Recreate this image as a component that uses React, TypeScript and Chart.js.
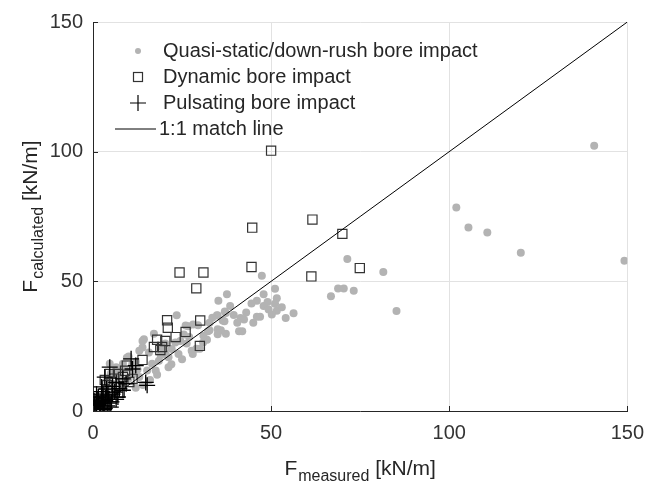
import React, { useEffect, useRef } from 'react';
import { Chart, registerables } from 'chart.js';

Chart.register(...registerables);

// Quasi-static/down-rush bore impact (grey dots)
const quasiX = [140.7, 102.0, 105.4, 110.7, 120.1, 149.2, 81.5, 85.2, 71.4, 68.8, 70.4, 73.2, 66.8, 47.4, 51.1, 37.6, 35.2, 47.9, 51.6, 46.0, 51.1, 47.9, 49.3, 51.6, 50.2, 56.3, 54.1, 46.0, 46.9, 37.3, 35.0, 36.4, 41.4, 42.4, 40.5, 41.0, 41.9, 37.3, 35.0, 32.7, 35.9, 23.5, 34.8, 37.0, 32.7, 28.1, 32.3, 17.1, 24.5, 26.3, 27.7, 30.9, 14.3, 13.9, 22.1, 24.0, 21.2, 15.7, 23.1, 20.3, 29.5, 26.7, 20.3, 18.5, 16.6, 13.0, 13.9, 29.0, 32.0, 35.0, 36.9, 17.6, 21.2, 11.1, 8.4, 6.5, 4.7, 13.0, 15.2, 10.0, 12.0, 9.0, 7.5, 5.5, 3.5, 2.5, 4.0, 6.0, 8.0, 10.0, 12.5, 2.0, 1.5, 3.0, 19.0, 25.5, 27.0, 31.0, 33.5, 38.5, 43.0, 44.5, 39.5, 45.0, 53.0, 49.0, 18.0, 22.0, 25.0, 28.0, 30.0, 16.0, 14.0, 12.0, 11.0, 9.5, 7.0, 5.0, 19.5, 26.0];
const quasiY = [102.3, 78.5, 70.8, 68.8, 61.0, 57.9, 53.6, 38.6, 58.6, 47.2, 47.2, 46.4, 44.2, 52.2, 47.1, 45.0, 42.5, 45.0, 43.5, 42.5, 41.4, 40.5, 39.1, 38.7, 37.2, 37.7, 35.9, 36.3, 36.3, 37.8, 36.8, 34.9, 35.9, 35.3, 34.0, 30.8, 30.8, 29.8, 31.5, 31.1, 31.1, 36.9, 36.9, 38.4, 34.0, 33.4, 30.8, 29.8, 27.0, 26.0, 23.2, 26.4, 27.7, 24.5, 23.9, 22.0, 20.7, 22.6, 26.4, 26.0, 33.1, 32.7, 22.0, 19.4, 18.2, 23.2, 27.0, 24.0, 27.5, 29.6, 34.6, 15.6, 16.9, 14.3, 18.2, 16.9, 18.2, 13.1, 15.6, 21.0, 19.0, 16.0, 13.0, 10.5, 8.0, 6.0, 12.0, 7.0, 10.0, 12.5, 16.0, 3.0, 2.0, 4.5, 21.5, 29.5, 28.5, 29.0, 36.0, 40.5, 38.0, 41.5, 37.0, 34.0, 40.0, 42.0, 14.0, 18.0, 20.0, 22.0, 24.0, 12.0, 10.0, 9.0, 18.0, 20.5, 15.0, 14.5, 24.5, 33.0];

// Dynamic bore impact (open squares)
const dynamicX = [50.0, 44.7, 61.6, 70.0, 44.5, 74.9, 61.3, 31.0, 24.3, 29.0, 20.8, 21.0, 30.1, 26.0, 23.2, 30.0, 18.0, 20.3, 17.1, 19.4, 18.9, 13.9, 9.5, 4.7, 7.0, 8.4, 11.1, 10.2, 5.2, 6.5, 4.2, 2.4, 3.8, 5.6, 2.8, 3.3, 6.0, 9.0, 1.5, 4.0, 7.5];
const dynamicY = [100.4, 70.7, 73.8, 68.3, 55.5, 55.1, 51.9, 53.4, 53.4, 47.3, 35.0, 32.1, 34.9, 30.5, 28.5, 25.1, 27.5, 27.0, 24.7, 24.7, 23.5, 19.7, 17.5, 14.3, 14.3, 13.1, 12.4, 11.2, 11.2, 9.3, 8.0, 4.2, 2.3, 5.4, 6.7, 12.0, 12.5, 15.5, 1.5, 10.0, 7.0];

// Pulsating bore impact (crosses)
const pulsatingX = [10.7, 15.2, 14.8, 12.0, 11.1, 4.7, 3.3, 8.4, 2.4, 0.6, 1.9, 2.8, 4.2, 6.1, 7.4, 7.0, 1.5, 1.0, 3.3, 5.2, 8.4, 9.3, 2.0, 3.0, 4.0, 1.2, 2.5, 5.5, 6.5, 0.8, 2.2, 4.5, 0.5, 1.5, 2.5, 3.5, 4.5, 5.5, 6.5, 1.0, 3.8, 0.3, 2.8, 5.0];
const pulsatingY = [20.1, 9.9, 11.0, 17.5, 16.2, 16.9, 13.1, 12.4, 9.3, 3.5, 2.9, 5.4, 6.1, 7.3, 8.6, 5.4, 5.4, 1.6, 1.0, 3.5, 8.0, 10.5, 1.0, 3.0, 2.0, 4.2, 7.5, 9.5, 11.0, 0.8, 2.0, 4.5, 2.5, 3.5, 4.0, 5.0, 3.0, 6.5, 4.5, 6.5, 8.5, 4.0, 0.5, 1.5];

// 1:1 match line
const matchX = [0, 150];
const matchY = [0, 150];

const tickValues = [0, 50, 100, 150];
const legendLabels = ['Quasi-static/down-rush bore impact', 'Dynamic bore impact', 'Pulsating bore impact', '1:1 match line'];
const xTitle = { main: 'F', sub: 'measured', unit: ' [kN/m]' };
const yTitle = { main: 'F', sub: 'calculated', unit: ' [kN/m]' };

const FONT = '"Liberation Sans", Arial, Helvetica, sans-serif';
const TEXT = '#262626';
const GREY = '#b3b3b3';

const pts = (xs: number[], ys: number[]) => xs.map((x, i) => ({ x, y: ys[i] }));

function drawSubTitle(ctx: CanvasRenderingContext2D, t: { main: string; sub: string; unit: string }, cx: number, baseY: number) {
  const mainFont = `21px ${FONT}`;
  const subFont = `16px ${FONT}`;
  ctx.font = mainFont;
  const wMain = ctx.measureText(t.main).width;
  const wUnit = ctx.measureText(t.unit).width;
  ctx.font = subFont;
  const wSub = ctx.measureText(t.sub).width;
  const gap = 1;
  const total = wMain + gap + wSub + wUnit;
  let x = cx - total / 2;
  ctx.textBaseline = 'alphabetic';
  ctx.textAlign = 'left';
  ctx.fillStyle = TEXT;
  ctx.font = mainFont;
  ctx.fillText(t.main, x, baseY);
  x += wMain + gap;
  ctx.font = subFont;
  ctx.fillText(t.sub, x, baseY + 6);
  x += wSub;
  ctx.font = mainFont;
  ctx.fillText(t.unit, x, baseY);
}

const decorPlugin = {
  id: 'decor',
  afterDraw(chart: any) {
    const { ctx, chartArea: ca, scales } = chart;
    const xs = scales.x;
    const ys = scales.y;
    ctx.save();
    // inward ticks
    ctx.strokeStyle = TEXT;
    ctx.lineWidth = 1;
    tickValues.forEach((v) => {
      const px = Math.round(xs.getPixelForValue(v)) + 0.5;
      ctx.beginPath();
      ctx.moveTo(px, ca.bottom);
      ctx.lineTo(px, ca.bottom - 5);
      ctx.stroke();
      const py = Math.round(ys.getPixelForValue(v)) + 0.5;
      ctx.beginPath();
      ctx.moveTo(ca.left, py);
      ctx.lineTo(ca.left + 5, py);
      ctx.stroke();
    });

    // axis titles
    drawSubTitle(ctx, xTitle, (ca.left + ca.right) / 2, 475);
    ctx.save();
    ctx.translate(37, (ca.top + ca.bottom) / 2);
    ctx.rotate(-Math.PI / 2);
    drawSubTitle(ctx, yTitle, 0, 0);
    ctx.restore();

    // legend
    const mx = ca.left + 45;
    const tx = ca.left + 70;
    const rowY = (i: number) => ca.top + 29 + i * 26;
    ctx.font = `20px ${FONT}`;
    ctx.textBaseline = 'middle';
    ctx.textAlign = 'left';
    legendLabels.forEach((lab, i) => {
      ctx.fillStyle = TEXT;
      ctx.fillText(lab, i === 3 ? tx - 4 : tx, rowY(i));
    });
    // markers
    ctx.fillStyle = GREY;
    ctx.beginPath();
    ctx.arc(mx, rowY(0), 3, 0, Math.PI * 2);
    ctx.fill();
    ctx.strokeStyle = '#333';
    ctx.lineWidth = 1.2;
    ctx.strokeRect(mx - 4.5, rowY(1) - 4.5, 9, 9);
    ctx.strokeStyle = '#000';
    ctx.beginPath();
    ctx.moveTo(mx - 8, rowY(2));
    ctx.lineTo(mx + 8, rowY(2));
    ctx.moveTo(mx, rowY(2) - 8);
    ctx.lineTo(mx, rowY(2) + 8);
    ctx.stroke();
    ctx.lineWidth = 1;
    ctx.beginPath();
    ctx.moveTo(ca.left + 22, rowY(3));
    ctx.lineTo(ca.left + 63, rowY(3));
    ctx.stroke();
    ctx.restore();
  },
};

export default function App() {
  const ref = useRef<HTMLCanvasElement>(null);
  useEffect(() => {
    document.body.style.margin = '0';
    if (!ref.current) return;
    const chart = new Chart(ref.current, {
      type: 'scatter',
      data: {
        datasets: [
          {
            label: legendLabels[3],
            data: pts(matchX, matchY),
            showLine: true,
            borderColor: '#000',
            borderWidth: 1,
            pointRadius: 0,
            order: 0,
          } as any,
          {
            label: legendLabels[2],
            data: pts(pulsatingX, pulsatingY),
            pointStyle: 'cross',
            pointRadius: 8,
            borderColor: '#000',
            backgroundColor: '#000',
            borderWidth: 1.3,
            order: 1,
          },
          {
            label: legendLabels[1],
            data: pts(dynamicX, dynamicY),
            pointStyle: 'rect',
            pointRadius: 6.5,
            borderColor: '#333',
            backgroundColor: 'rgba(0,0,0,0)',
            borderWidth: 1.2,
            order: 2,
          },
          {
            label: legendLabels[0],
            data: pts(quasiX, quasiY),
            pointStyle: 'circle',
            pointRadius: 4,
            backgroundColor: GREY,
            borderColor: GREY,
            borderWidth: 0,
            order: 3,
          },
        ],
      },
      options: {
        responsive: false,
        animation: false,
        layout: { padding: { top: 17, right: 17, left: 0, bottom: 0 } },
        plugins: { legend: { display: false }, tooltip: { enabled: false } },
        scales: {
          x: {
            type: 'linear',
            min: 0,
            max: 150,
            ticks: { stepSize: 50, font: { family: FONT, size: 20 }, color: '#333', padding: 10, maxRotation: 0 },
            grid: { color: '#e2e2e2', drawTicks: false },
            border: { color: TEXT, width: 1 },
            afterFit: (s: any) => { s.height = 71; },
          },
          y: {
            type: 'linear',
            min: 0,
            max: 150,
            ticks: { stepSize: 50, font: { family: FONT, size: 20 }, color: '#333', padding: 10 },
            grid: { color: '#e2e2e2', drawTicks: false },
            border: { color: TEXT, width: 1 },
            afterFit: (s: any) => { s.width = 93; },
          },
        },
      },
      plugins: [decorPlugin],
    });
    return () => chart.destroy();
  }, []);
  return <canvas ref={ref} width={654} height={482} style={{ display: 'block' }} />;
}
